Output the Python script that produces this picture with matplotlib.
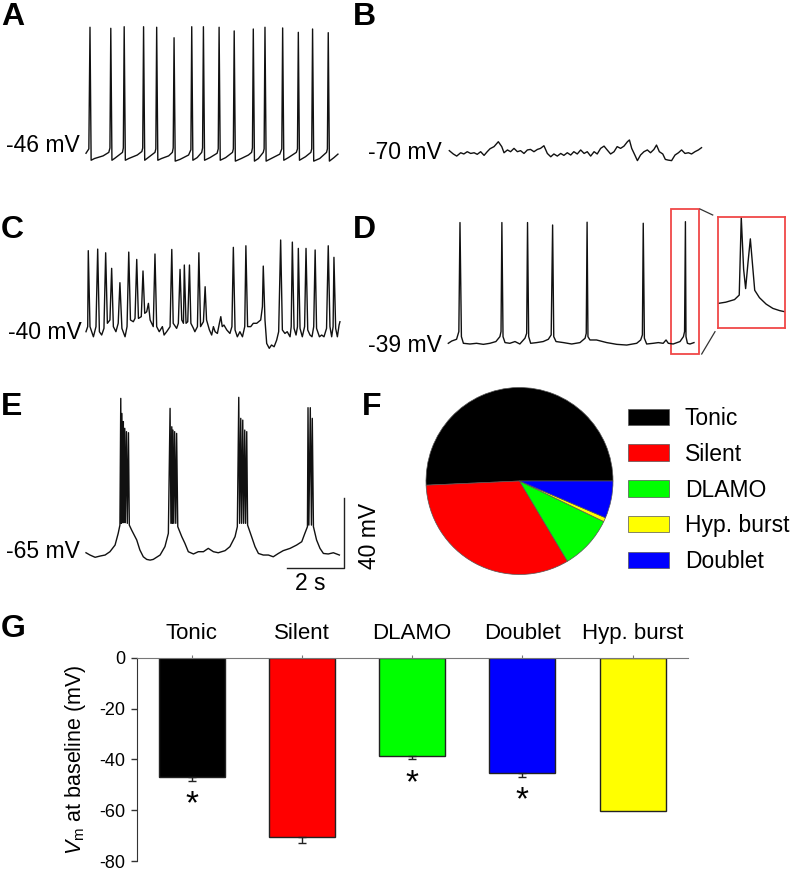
import matplotlib
matplotlib.use("Agg")
import matplotlib.pyplot as plt
from matplotlib.patches import Rectangle
from matplotlib.lines import Line2D

plt.rcParams['font.family'] = ['Liberation Sans', 'DejaVu Sans']
plt.rcParams['axes.unicode_minus'] = False
plt.rcParams['mathtext.fontset'] = 'custom'
plt.rcParams['mathtext.it'] = 'Liberation Sans:italic'
plt.rcParams['mathtext.rm'] = 'Liberation Sans'

# ---- traces, (time s, Vm mV) ----
trace_a = [(0.00,-45.0),(0.10,-42.5),(0.14,27.0),(0.18,-49.0),(0.30,-48.0),(0.60,-46.5),(0.80,-44.5),(0.84,-42.0),
           (0.87,26.4),(0.91,-49.0),(1.00,-48.0),(1.28,-44.5),(1.31,-42.0),(1.34,27.3),(1.38,-49.0),(1.50,-48.0),
           (1.80,-46.0),(1.96,-44.0),(1.99,-42.0),(2.02,27.3),(2.06,-49.0),(2.18,-47.5),(2.42,-44.5),(2.45,-42.5),
           (2.48,27.0),(2.52,-49.0),(2.65,-48.0),(2.90,-46.5),(3.03,-44.5),(3.06,-42.0),(3.09,21.0),(3.13,-49.5),
           (3.30,-48.5),(3.60,-46.0),(3.68,-43.0),(3.71,27.3),(3.75,-49.0),(3.90,-47.5),(4.06,-44.5),(4.09,-42.0),
           (4.12,27.3),(4.16,-49.0),(4.35,-47.5),(4.60,-45.0),(4.64,-42.5),(4.67,27.0),(4.71,-49.0),(4.90,-47.5),
           (5.14,-44.5),(5.17,-42.5),(5.20,24.9),(5.24,-49.5),(5.45,-48.0),(5.70,-46.0),(5.81,-44.5),(5.84,-42.0),
           (5.87,26.0),(5.91,-49.5),(6.05,-48.0),(6.22,-44.5),(6.25,-42.5),(6.28,27.0),(6.32,-49.5),(6.50,-48.0),
           (6.80,-45.5),(6.87,-42.5),(6.90,26.6),(6.94,-49.0),(7.10,-47.5),(7.38,-44.5),(7.42,-42.5),(7.45,24.1),
           (7.49,-49.0),(7.70,-47.0),(7.89,-44.5),(7.92,-42.5),(7.95,26.0),(7.99,-49.5),(8.20,-48.0),(8.44,-44.5),
           (8.47,-42.5),(8.50,23.9),(8.54,-49.5),(8.70,-47.5),(8.84,-45.5)]

trace_b = [(0.00,-69.4),(0.14,-71.3),(0.26,-72.5),(0.40,-70.6),(0.51,-71.3),(0.63,-70.0),(0.75,-71.0),(0.87,-70.6),
           (0.98,-71.5),(1.10,-70.0),(1.22,-72.1),(1.33,-70.0),(1.43,-68.3),(1.57,-67.1),(1.72,-64.3),(1.84,-67.1),
           (1.92,-70.6),(2.04,-69.0),(2.15,-70.0),(2.27,-68.1),(2.39,-70.0),(2.50,-69.4),(2.62,-71.0),(2.74,-69.0),
           (2.85,-68.7),(2.97,-70.0),(3.09,-68.7),(3.20,-68.1),(3.32,-66.6),(3.44,-71.0),(3.56,-72.9),(3.67,-71.3),
           (3.79,-72.5),(3.91,-71.0),(4.02,-72.1),(4.14,-70.6),(4.26,-71.9),(4.37,-70.0),(4.49,-71.3),(4.61,-69.0),
           (4.73,-71.0),(4.84,-70.0),(4.96,-72.5),(5.08,-70.0),(5.19,-71.3),(5.31,-68.1),(5.43,-66.8),(5.54,-69.0),
           (5.66,-71.3),(5.78,-70.0),(5.89,-67.1),(6.01,-68.1),(6.13,-66.8),(6.25,-64.3),(6.32,-63.3),(6.40,-68.1),
           (6.51,-71.9),(6.60,-75.1),(6.71,-71.9),(6.83,-70.0),(6.95,-69.0),(7.06,-70.6),(7.18,-68.7),(7.27,-66.2),
           (7.37,-70.0),(7.49,-71.3),(7.58,-74.4),(7.68,-74.8),(7.80,-75.1),(7.92,-71.9),(8.04,-70.6),(8.15,-69.0),
           (8.27,-71.0),(8.39,-70.6),(8.50,-71.3),(8.62,-70.0),(8.74,-69.0),(8.85,-67.7)]

trace_c = [(0.00,-40.0),(0.06,-37.1),(0.08,6.3),(0.14,-37.1),(0.26,-42.9),(0.35,-37.1),(0.41,7.2),(0.47,-40.0),
           (0.55,-41.9),(0.63,-38.1),(0.69,5.1),(0.75,-35.2),(0.84,-33.3),(0.90,-3.8),(0.96,-37.1),(1.05,-40.0),
           (1.13,-35.2),(1.19,-12.0),(1.26,-38.1),(1.37,-42.9),(1.44,-37.1),(1.50,5.5),(1.56,-33.3),(1.66,-34.3),
           (1.72,-32.4),(1.78,1.3),(1.84,-32.4),(1.94,-31.4),(2.00,-5.3),(2.06,-29.5),(2.13,-28.6),(2.19,-23.8),
           (2.25,-33.3),(2.36,-37.1),(2.42,4.4),(2.48,-37.1),(2.57,-40.0),(2.68,-37.1),(2.74,-41.9),(2.83,-40.0),
           (2.95,-37.1),(3.01,7.0),(3.06,-35.2),(3.18,-38.1),(3.24,-35.2),(3.30,-4.4),(3.36,-33.3),(3.42,-35.2),
           (3.45,-1.9),(3.51,-35.2),(3.57,-34.3),(3.63,-1.9),(3.68,-35.2),(3.77,-38.1),(3.82,-40.0),(3.91,-37.1),
           (3.96,5.1),(4.02,-37.1),(4.12,-34.3),(4.18,-14.3),(4.23,-33.3),(4.33,-39.0),(4.41,-41.9),(4.47,-37.1),
           (4.53,-40.0),(4.61,-41.0),(4.68,-35.2),(4.73,-31.4),(4.78,-37.1),(4.84,-36.2),(4.94,-39.0),(5.05,-41.0),
           (5.12,-37.1),(5.17,8.2),(5.23,-39.0),(5.31,-42.9),(5.40,-40.0),(5.49,-42.9),(5.57,-37.1),(5.61,9.1),
           (5.67,-37.1),(5.78,-37.1),(5.87,-35.2),(5.99,-35.2),(6.13,-33.3),(6.19,-25.7),(6.22,-2.5),(6.28,-33.3),
           (6.34,-46.7),(6.43,-49.5),(6.51,-47.6),(6.60,-48.6),(6.69,-44.8),(6.76,-40.0),(6.83,12.4),(6.89,-39.0),
           (6.98,-41.0),(7.06,-40.0),(7.16,-42.9),(7.20,-37.1),(7.24,11.2),(7.30,-38.1),(7.37,-41.9),(7.42,-37.1),
           (7.45,7.6),(7.51,-38.1),(7.59,-42.9),(7.67,-37.1),(7.72,7.6),(7.78,-39.0),(7.86,-41.9),(7.93,-42.9),
           (7.99,-37.1),(8.04,6.7),(8.09,-38.1),(8.19,-42.9),(8.27,-41.9),(8.35,-42.9),(8.44,-38.1),(8.50,9.1),
           (8.56,-37.1),(8.62,-42.9),(8.67,-37.1),(8.70,2.5),(8.76,-38.1),(8.82,-42.9),(8.88,-36.2),(8.91,-34.3)]

trace_d = [(0.00,-39.0),(0.12,-37.7),(0.29,-36.7),(0.37,-32.3),(0.41,30.0),(0.46,-35.2),(0.53,-39.0),(0.76,-39.4),
           (0.99,-39.0),(1.23,-39.6),(1.46,-39.0),(1.67,-38.0),(1.81,-35.2),(1.85,-32.3),(1.88,30.0),(1.92,-35.2),
           (1.99,-38.6),(2.16,-39.0),(2.34,-38.0),(2.51,-39.4),(2.69,-36.1),(2.75,-33.3),(2.78,30.0),(2.82,-35.2),
           (2.89,-39.0),(3.10,-38.6),(3.33,-38.0),(3.51,-36.7),(3.61,-34.2),(3.66,28.6),(3.70,-35.2),(3.78,-38.0),
           (4.04,-38.6),(4.33,-39.4),(4.62,-38.6),(4.80,-36.1),(4.84,-33.3),(4.87,30.2),(4.90,-35.2),(4.97,-37.1),
           (5.20,-37.1),(5.56,-38.6),(5.91,-39.6),(6.26,-40.0),(6.61,-39.0),(6.75,-37.1),(6.81,-34.2),(6.84,29.6),
           (6.88,-36.1),(6.96,-39.4),(7.19,-39.0),(7.37,-38.6),(7.54,-39.0),(7.64,-37.1),(7.72,-39.0),(7.89,-39.4),
           (8.13,-38.0),(8.25,-35.2),(8.29,-32.3),(8.32,30.5),(8.34,-35.2),(8.39,-39.0),(8.48,-39.4),(8.62,-38.6)]

# zoomed doublet (ms, mV)
trace_d_zoom = [(0,-36.5),(12,-35.5),(25,-33.5),(32,-30.0),(35,30.0),(38.5,-10.0),(41.5,-25.0),(45,-5.0),
                (48.5,13.4),(51.5,-5.0),(55,-26.3),(62,-32.0),(72,-37.0),(82,-40.3),(92,-42.0),(100,-42.9)]

trace_e = [(0.00,-65.6),(0.14,-66.9),(0.32,-68.2),(0.49,-67.5),(0.67,-66.9),(0.84,-65.0),(1.02,-61.2),(1.13,-54.5),
           (1.19,-49.8),(1.22,22.6),(1.24,-48.8),(1.26,14.0),(1.29,-48.4),(1.31,9.3),(1.33,-48.4),(1.36,5.5),
           (1.38,-48.4),(1.42,3.6),(1.45,-48.8),(1.49,3.0),(1.52,-49.8),(1.60,-52.6),(1.78,-58.3),(1.89,-64.0),
           (2.01,-67.9),(2.13,-69.4),(2.25,-69.8),(2.36,-69.4),(2.60,-66.9),(2.77,-62.1),(2.89,-54.5),(2.95,16.9),
           (2.98,-48.8),(3.01,6.4),(3.03,-48.8),(3.05,4.5),(3.08,-48.8),(3.11,3.6),(3.15,-48.8),(3.18,2.6),
           (3.22,-50.7),(3.36,-56.4),(3.47,-60.2),(3.59,-65.0),(3.77,-66.3),(3.94,-65.0),(4.12,-65.0),(4.29,-63.1),
           (4.47,-65.0),(4.64,-65.6),(4.88,-64.4),(5.05,-62.1),(5.23,-56.4),(5.31,-50.7),(5.36,23.2),(5.39,-48.8),
           (5.43,11.2),(5.46,-48.8),(5.50,10.2),(5.53,-48.8),(5.57,4.5),(5.60,-48.8),(5.64,3.6),(5.67,-49.8),
           (5.81,-56.4),(5.93,-62.1),(6.05,-66.0),(6.22,-66.9),(6.40,-66.9),(6.57,-67.9),(6.75,-66.0),(6.92,-64.4),
           (7.16,-63.1),(7.39,-61.2),(7.57,-59.3),(7.68,-54.5),(7.77,-50.7),(7.79,17.3),(7.82,-49.8),(7.87,17.3),
           (7.91,-49.8),(7.94,11.2),(7.98,-50.7),(8.09,-58.3),(8.21,-63.1),(8.33,-66.0),(8.50,-66.3),(8.68,-65.6),
           (8.89,-66.9)]

# ---- pie (cell counts) ----
pie_labels = ["Tonic", "Silent", "DLAMO", "Hyp. burst", "Doublet"]
pie_counts = [71, 46, 13, 1, 9]
pie_colors = ["#000000", "#FF0000", "#00FF00", "#FFFF00", "#0000FF"]

# ---- bars (mean, sem) ----
bar_labels = ["Tonic", "Silent", "DLAMO", "Doublet", "Hyp. burst"]
bar_means = [-47.0, -70.4, -38.7, -45.4, -60.2]
bar_sem = [1.5, 2.6, 1.3, 1.4, 0.0]
bar_colors = ["#000000", "#FF0000", "#00FF00", "#0000FF", "#FFFF00"]
bar_sig = [True, False, True, True, False]

W, H = 792, 874
fig = plt.figure(figsize=(W/100, H/100), dpi=100)

def px_axes(x0, y0, x1, y1):
    return fig.add_axes([x0/W, 1-y1/H, (x1-x0)/W, (y1-y0)/H])

PX_S = 28.5   # px per second
PX_MV = 1.75  # px per mV

def trace_axes(x0, y_ref, v_ref, width=270, up=180, down=40):
    ax = px_axes(x0, y_ref-up, x0+width, y_ref+down)
    ax.set_xlim(0, width/PX_S)
    ax.set_ylim(v_ref-down/PX_MV, v_ref+up/PX_MV)
    ax.set_axis_off()
    return ax

def draw_trace(ax, pts, label, v_ref, dx, dy):
    t = [p[0] for p in pts]
    v = [p[1] for p in pts]
    ax.plot(t, v, color='#111111', lw=1.0, clip_on=False)
    ax.annotate(label, xy=(0, v_ref), xytext=(-dx, -dy), textcoords='offset pixels',
                ha='right', va='baseline', fontsize=16.5)

ax_a = trace_axes(86, 155, -46)
draw_trace(ax_a, trace_a, "-46 mV", -46, 6, -3)
ax_b = trace_axes(449.3, 151.7, -70)
draw_trace(ax_b, trace_b, "-70 mV", -70, 7.6, 7.6)
ax_c = trace_axes(86, 331.7, -40)
draw_trace(ax_c, trace_c, "-40 mV", -40, 4.3, 7.6)
ax_d = trace_axes(448.3, 343.3, -39)
draw_trace(ax_d, trace_d, "-39 mV", -39, 6.6, 8.4)
ax_e = trace_axes(86, 551.7, -65)
draw_trace(ax_e, trace_e, "-65 mV", -65, 6, 6.6)

# red box around the doublet in D
ax_d.add_patch(Rectangle((7.80, -45.1), 1.01, 82.8, fill=False, ec='#F04848', lw=1.3, clip_on=False))
ax_in = px_axes(717.7, 216.7, 785, 327.7)
ax_in.plot([p[0] for p in trace_d_zoom], [p[1] for p in trace_d_zoom], color='#111111', lw=1.0)
ax_in.set_xlim(0, 100)
ax_in.set_ylim(-55.2, 30.5)
ax_in.set_xticks([])
ax_in.set_yticks([])
for s in ax_in.spines.values():
    s.set_color('#F04848')
    s.set_linewidth(1.3)
fig.add_artist(Line2D([700/W, 712.7/W], [1-209/H, 1-215/H], color='#333333', lw=0.9))
fig.add_artist(Line2D([701.7/W, 715/W], [1-354/H, 1-331.7/H], color='#333333', lw=0.9))

# scale bar in E
sb_t, sb_v = 2, 40
sb_x, sb_y = 9.05, -74.3
ax_e.plot([sb_x-sb_t, sb_x, sb_x], [sb_y, sb_y, sb_y+sb_v], color='#222222', lw=1.0, clip_on=False)
ax_e.annotate("2 s", xy=(sb_x-sb_t/2, sb_y), xytext=(-5, -22), textcoords='offset pixels',
              ha='center', va='baseline', fontsize=16.5)
ax_e.annotate("40 mV", xy=(sb_x, sb_y+sb_v/2), xytext=(26, -3), textcoords='offset pixels',
              ha='center', va='center', rotation=90, fontsize=16.5)

# F: pie
ax_p = px_axes(426, 387.5, 613, 574.5)
wedges, _ = ax_p.pie(pie_counts, colors=pie_colors, startangle=0, counterclock=True, radius=1,
                     wedgeprops=dict(edgecolor='#555555', linewidth=0.5))
ax_p.set_xlim(-1, 1)
ax_p.set_ylim(-1, 1)
ax_p.legend(wedges, pie_labels, loc='center left', bbox_to_anchor=(627.7/W, 1-490/H),
            bbox_transform=fig.transFigure, frameon=False, fontsize=16.5, handlelength=1.8,
            handleheight=0.72, handletextpad=0.7, labelspacing=0.56, borderpad=0, borderaxespad=0)

# G: bars
ax_g = px_axes(136.7, 657.7, 687.7, 861)
xs = range(len(bar_labels))
ax_g.bar(xs, bar_means, width=0.6, color=bar_colors, edgecolor='#222222', linewidth=1.0)
for i in xs:
    if bar_sem[i] > 0:
        ax_g.errorbar(i, bar_means[i], yerr=[[bar_sem[i]], [0]], fmt='none', ecolor='#222222',
                      elinewidth=1.0, capsize=3)
    if bar_sig[i]:
        ax_g.text(i, bar_means[i]-bar_sem[i]-9.5, "*", ha='center', va='center', fontsize=24)
ax_g.set_xlim(-0.5, 4.5)
ax_g.set_ylim(-80, 0)
ax_g.set_yticks([0, -20, -40, -60, -80])
ax_g.tick_params(axis='y', labelsize=13, length=4.5, width=1, color='#333333')
ax_g.xaxis.tick_top()
ax_g.set_xticks(list(xs))
ax_g.set_xticklabels(bar_labels, fontsize=16)
ax_g.tick_params(axis='x', length=2, pad=8, color='#777777')
ax_g.spines['bottom'].set_visible(False)
ax_g.spines['right'].set_visible(False)
ax_g.spines['top'].set_color('#777777')
ax_g.spines['left'].set_color('#333333')
ax_g.set_ylabel(r"$V_{\rm m}$ at baseline (mV)", fontsize=15.5)
ax_g.yaxis.set_label_coords(-0.088, 0.5)

# panel letters
letters = [("A", 1, 25), ("B", 353, 25), ("C", 1, 238), ("D", 353, 238),
           ("E", 1, 415), ("F", 362, 415), ("G", 1, 637)]
for s, x, y in letters:
    fig.text(x/W, 1-y/H, s, fontsize=23, fontweight='bold', ha='left', va='baseline')

fig.savefig("out.png", dpi=100)
